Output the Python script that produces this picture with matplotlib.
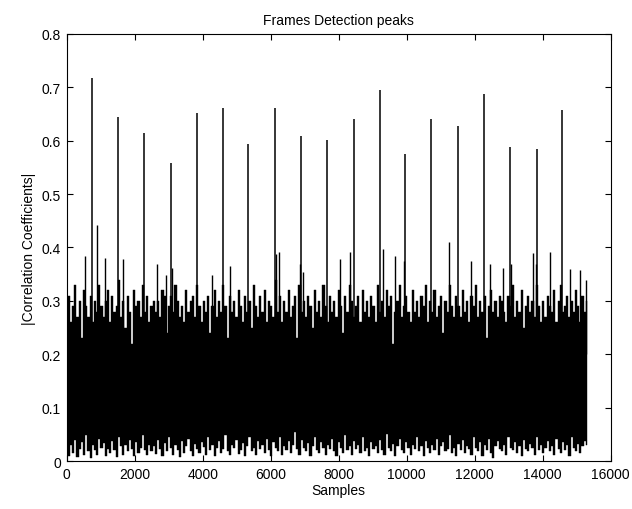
import numpy as np
import matplotlib
matplotlib.use("Agg")
import matplotlib.pyplot as plt

# Frame detection peaks (sample index, |corr|)
peak_x = [735, 1500, 2274, 3059, 3824, 4597, 5342, 6115, 6882, 7665,
          8441, 9215, 9941, 10724, 11500, 12265, 13038, 13824, 14559]
peak_y = [0.717, 0.645, 0.614, 0.558, 0.652, 0.661, 0.593, 0.661, 0.609, 0.601,
          0.640, 0.694, 0.575, 0.640, 0.628, 0.687, 0.589, 0.584, 0.658]

# Secondary (non-frame) spikes above the noise band
spike_x = [538, 882, 1126, 1647, 2647, 2920, 3106, 4265, 4803, 6147,
           6235, 6862, 6959, 8038, 8332, 9294, 9655, 9920, 11253, 11891,
           12450, 12841, 13067, 13705, 13802, 14214, 14802, 15096, 15264]
spike_y = [0.384, 0.442, 0.381, 0.378, 0.369, 0.348, 0.362, 0.348, 0.366, 0.388,
           0.392, 0.369, 0.355, 0.378, 0.392, 0.397, 0.384, 0.374, 0.411, 0.374,
           0.369, 0.362, 0.370, 0.390, 0.370, 0.391, 0.360, 0.358, 0.340]

# Noise band envelope (per ~64 samples), upper edge, in hundredths
band_top = [
    28, 31, 26, 29, 33, 27, 30, 23, 32, 29, 27, 31, 26, 30, 28, 33, 29, 27, 30, 32,
    26, 31, 28, 29, 34, 27, 30, 25, 31, 28, 22, 32, 29, 30, 27, 33, 28, 31, 26, 29,
    30, 28, 30, 27, 32, 31, 24, 29, 31, 28, 33, 30, 27, 29, 26, 32, 28, 30, 31, 27,
    33, 29, 26, 30, 28, 31, 24, 29, 32, 27, 30, 28, 33, 29, 23, 31, 28, 30, 27, 32,
    29, 26, 31, 28, 30, 25, 33, 29, 27, 31, 28, 32, 26, 30, 29, 27, 34, 28, 31, 26,
    30, 28, 32, 27, 29, 31, 23, 33, 28, 30, 27, 31, 29, 25, 32, 28, 30, 27, 33, 29,
    26, 31, 28, 30, 27, 32, 29, 24, 31, 28, 33, 30, 27, 29, 31, 26, 32, 28, 30, 27,
    31, 29, 26, 33, 28, 30, 27, 32, 29, 31, 22, 28, 30, 33, 27, 29, 31, 28, 26, 32,
    28, 30, 27, 31, 29, 33, 26, 30, 28, 32, 27, 29, 31, 24, 30, 28, 33, 29, 27, 31,
    29, 27, 32, 28, 30, 26, 31, 29, 33, 27, 30, 28, 31, 23, 29, 32, 28, 30, 27, 31,
    30, 28, 26, 31, 29, 33, 27, 30, 28, 32, 25, 29, 31, 28, 30, 27, 33, 29, 26, 30,
    27, 31, 29, 28, 32, 26, 30, 33, 28, 29, 31, 27, 30, 28, 32, 29, 26, 31, 28, 30,
]
# Noise band envelope, lower edge, in thousandths
band_bottom = [
    20, 10, 30, 15, 40, 8, 22, 35, 12, 48, 18, 5, 30, 20, 12, 42, 25, 33, 10, 22,
    15, 38, 20, 8, 45, 28, 12, 30, 18, 40, 22, 10, 35, 15, 25, 48, 20, 12, 30, 18,
    28, 14, 40, 22, 10, 33, 18, 45, 25, 12, 30, 20, 8, 38, 15, 28, 42, 18, 10, 32,
    22, 15, 35, 26, 12, 45, 20, 30, 10, 25, 38, 15, 22, 48, 18, 12, 30, 25, 40, 14,
    20, 33, 10, 28, 45, 18, 25, 12, 38, 22, 30, 15, 42, 20, 10, 35, 25, 18, 46, 12,
    28, 20, 38, 15, 30, 55, 22, 12, 40, 25, 18, 33, 10, 28, 45, 20, 15, 35, 25, 12,
    30, 22, 42, 18, 10, 36, 25, 15, 48, 20, 28, 12, 38, 22, 30, 15, 45, 18, 25, 10,
    35, 22, 28, 15, 40, 20, 12, 50, 25, 18, 32, 10, 28, 42, 20, 15, 35, 25, 12, 30,
    22, 45, 18, 28, 10, 38, 25, 15, 30, 20, 42, 12, 28, 35, 18, 22, 48, 15, 25, 10,
    32, 20, 40, 15, 28, 22, 12, 45, 25, 18, 35, 10, 30, 20, 42, 15, 5, 28, 38, 22,
    18, 30, 12, 45, 25, 20, 35, 15, 28, 10, 40, 22, 18, 32, 25, 12, 45, 20, 30, 15,
    25, 38, 18, 28, 12, 42, 22, 15, 35, 20, 30, 10, 45, 25, 18, 32, 15, 28, 38, 30,
]

n_samples = 15300
x_ticks = [0, 2000, 4000, 6000, 8000, 10000, 12000, 14000, 16000]
y_ticks = [0, 0.1, 0.2, 0.3, 0.4, 0.5, 0.6, 0.7, 0.8]
y_ticklabels = ["0", "0.1", "0.2", "0.3", "0.4", "0.5", "0.6", "0.7", "0.8"]

plt.rcParams['font.family'] = ['Liberation Sans', 'DejaVu Sans']
fig = plt.figure(figsize=(6.32, 5.10), dpi=100)
ax = fig.add_axes([0.1055, 0.0939, 0.8608, 0.8377])

top = np.array(band_top) / 100.0
bot = np.array(band_bottom) / 1000.0
xb = np.linspace(0, n_samples, len(top))
ax.fill_between(xb, bot, top, step='mid', color='black', linewidth=0.3, edgecolor='black')

# secondary spikes and frame peaks
ax.vlines(spike_x, 0.2, spike_y, color='black', linewidth=1.0)
ax.vlines(peak_x, 0.2, peak_y, color='black', linewidth=1.1)

ax.set_xlim(0, 16000)
ax.set_ylim(0, 0.8)
ax.set_xticks(x_ticks)
ax.set_xticklabels([str(t) for t in x_ticks])
ax.set_yticks(y_ticks)
ax.set_yticklabels(y_ticklabels)
ax.tick_params(direction='in', top=True, right=True, length=4, width=0.8,
               labelsize=10, pad=4)
for s in ax.spines.values():
    s.set_linewidth(0.8)

ax.set_title("Frames Detection peaks", fontsize=10, pad=7)
ax.set_xlabel("Samples", fontsize=10, labelpad=2)
ax.set_ylabel("|Correlation Coefficients|", fontsize=10, labelpad=4)

fig.savefig("out.png", dpi=100, facecolor='white')
